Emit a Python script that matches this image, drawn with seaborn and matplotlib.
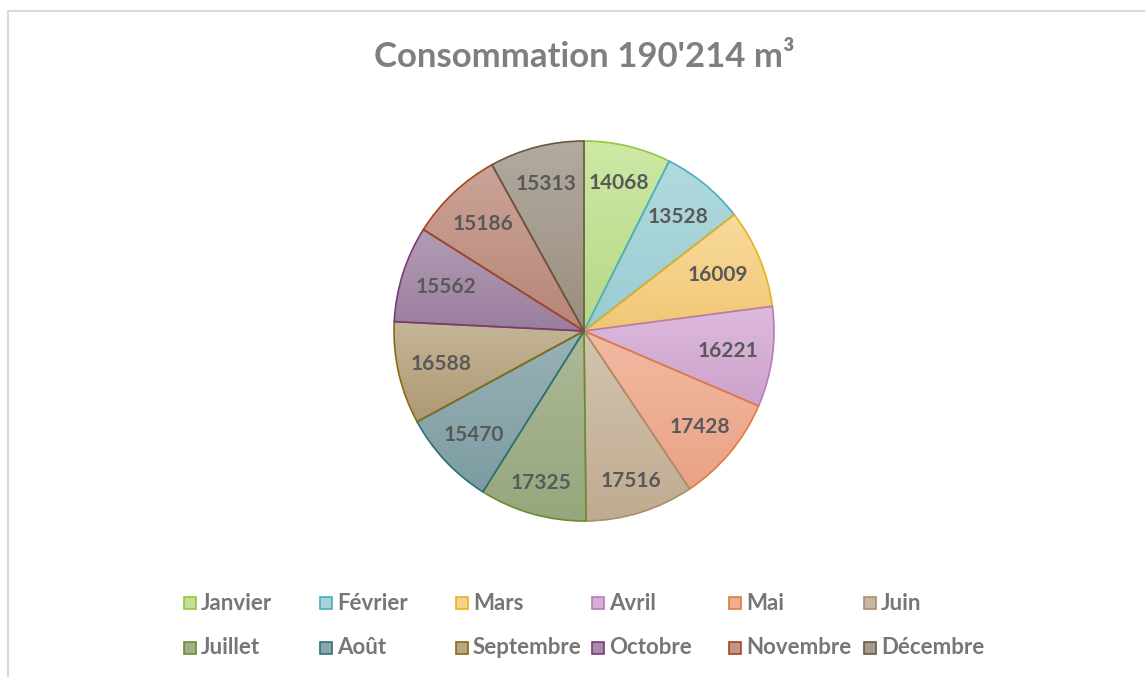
import numpy as np
import matplotlib
matplotlib.use("Agg")
import matplotlib.pyplot as plt
from matplotlib.patches import Rectangle
from matplotlib.lines import Line2D
from matplotlib.colors import to_rgb
import seaborn as sns

sns.set_style("white")
plt.rcParams['font.family'] = ['Lato', 'DejaVu Sans']

# données
mois = ['Janvier', 'Février', 'Mars', 'Avril', 'Mai', 'Juin',
        'Juillet', 'Août', 'Septembre', 'Octobre', 'Novembre', 'Décembre']
consommation = [14068, 13528, 16009, 16221, 17428, 17516,
                17325, 15470, 16588, 15562, 15186, 15313]

# couleurs (dégradé haut -> bas, et bordure)
couleurs_haut = ['#cde9a4', '#b0dade', '#f9da9c', '#ddbadd', '#f1baa2', '#d2c5b1',
                 '#acba98', '#99b2b6', '#c4b698', '#b29cb4', '#cca398', '#b2aaa0']
couleurs_bas = ['#b5d888', '#9bcbd2', '#f1c776', '#cda2cb', '#eaa286', '#c0ab90',
                '#96a67c', '#7c9ca2', '#ae9874', '#9a7e9e', '#b68676', '#9a8e7e']
couleurs_bord = ['#92c83e', '#4bacc6', '#e4b31b', '#b87ab8', '#e07b3c', '#a8906e',
                 '#6c8c2a', '#2c6f7a', '#8a6c10', '#7b3a7e', '#a4471e', '#6b5843']

total = sum(consommation)
W, H = 1145, 677
cx, cy, r = 584, 331, 190

fig = plt.figure(figsize=(W / 100, H / 100), dpi=100)
ax = fig.add_axes([(cx - r) / W, (H - cy - r) / H, 2 * r / W, 2 * r / H])

wedges, texts, autotexts = ax.pie(
    consommation, startangle=90, counterclock=False,
    autopct=lambda p: f"{p * total / 100:.0f}", pctdistance=0.78,
    wedgeprops=dict(linewidth=1.2),
    textprops=dict(fontsize=15, fontweight='bold', color='#595959'))

t = np.linspace(0, 1, 128)[:, None]
for w, txt, c_top, c_bot, c_edge in zip(wedges, autotexts, couleurs_haut, couleurs_bas, couleurs_bord):
    w.set_facecolor('none')
    w.set_edgecolor(c_edge)
    ext = w.get_path().get_extents()
    img = (np.array(to_rgb(c_top)) * (1 - t) + np.array(to_rgb(c_bot)) * t)[:, None, :]
    ax.imshow(img, extent=(ext.x0, ext.x1, ext.y0, ext.y1), origin='upper',
              aspect='auto', zorder=0.5, clip_path=w, interpolation='bilinear')
    # étiquette un peu plus au bord en haut / en bas (comme "ajustement optimal")
    ang = np.deg2rad((w.theta1 + w.theta2) / 2)
    d = 0.81 - 0.05 * abs(np.cos(ang)) + 0.035 * max(-np.sin(ang), 0)
    txt.set_position((d * np.cos(ang), d * np.sin(ang)))

ax.set_xlim(-1, 1)
ax.set_ylim(-1, 1)
ax.set_aspect('equal')
ax.axis('off')

# titre
fig.text(cx / W, 1 - 57 / H, "Consommation 190'214 m³", ha='center', va='center',
         fontsize=25, fontweight='bold', color='#7f7f7f')

# légende
col_x = [184, 320, 456, 592, 729, 864]
row_y = [603, 648]
sq = 12
for i, (nom, c_top, c_bot, c_edge) in enumerate(zip(mois, couleurs_haut, couleurs_bas, couleurs_bord)):
    x = col_x[i % 6]
    y = row_y[i // 6]
    mid = (np.array(to_rgb(c_top)) + np.array(to_rgb(c_bot))) / 2
    fig.add_artist(Rectangle((x / W, (H - y - sq / 2) / H), sq / W, sq / H,
                             transform=fig.transFigure, facecolor=mid,
                             edgecolor=c_edge, linewidth=1.2))
    fig.text((x + sq + 5) / W, 1 - y / H, nom, ha='left', va='center',
             fontsize=16, fontweight='bold', color='#767676')

# cadre
fig.add_artist(Line2D([8 / W, 8 / W], [0, 1 - 11 / H], transform=fig.transFigure,
                      color='#d9d9d9', linewidth=1.5))
fig.add_artist(Line2D([8 / W, 1], [1 - 11 / H, 1 - 11 / H], transform=fig.transFigure,
                      color='#d9d9d9', linewidth=1.5))

fig.savefig('out.png', dpi=100, facecolor='white')
